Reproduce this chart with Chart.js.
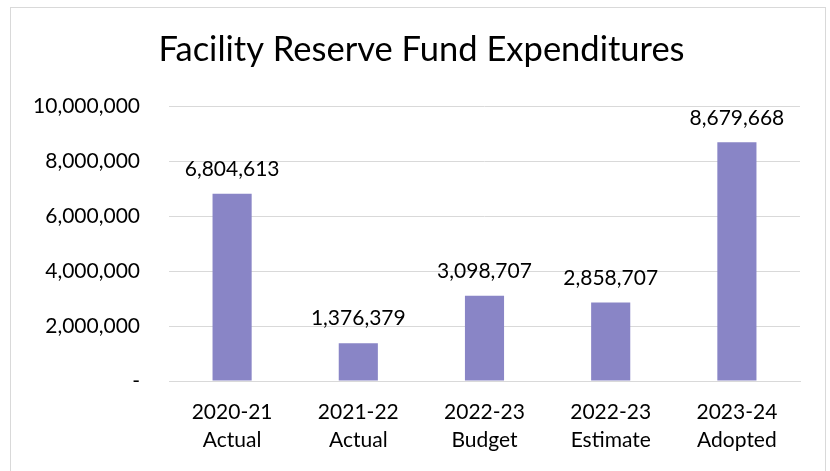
<!DOCTYPE html>
<html>
<head>
<meta charset="utf-8">
<script src="https://cdn.jsdelivr.net/npm/chart.js@4"></script>
<style>
  html, body { margin: 0; padding: 0; background: #fff; }
  #wrap { position: relative; width: 830px; height: 471px; }
  #frame { position: absolute; left: 10px; top: 7px; width: 816px; height: 470px; border: 1px solid #d9d9d9; box-sizing: border-box; }
  canvas { position: absolute; left: 0; top: 0; }
</style>
</head>
<body>
<div id="wrap">
  <div id="frame"></div>
  <canvas id="myChart" width="830" height="471"></canvas>
</div>
<script>
const titleText = 'Facility Reserve Fund Expenditures';
const categories = [
  ['2020-21', 'Actual'],
  ['2021-22', 'Actual'],
  ['2022-23', 'Budget'],
  ['2022-23', 'Estimate'],
  ['2023-24', 'Adopted']
];
const expenditures = [6804613, 1376379, 3098707, 2858707, 8679668];
const yTicks = [0, 2000000, 4000000, 6000000, 8000000, 10000000];

const fmt = v => v.toLocaleString('en-US');
const FONT = 'Lato, Calibri, sans-serif';

// draws the value above each bar
const valueLabels = {
  id: 'valueLabels',
  afterDatasetsDraw(chart) {
    const ctx = chart.ctx;
    const meta = chart.getDatasetMeta(0);
    ctx.save();
    ctx.font = '21px ' + FONT;
    ctx.fillStyle = '#000';
    ctx.textAlign = 'center';
    ctx.textBaseline = 'bottom';
    meta.data.forEach((bar, i) => {
      ctx.fillText(fmt(expenditures[i]), bar.x, bar.y - 14);
    });
    ctx.restore();
  }
};

// the title in the original sits a bit right of the canvas centre
const shiftTitle = {
  id: 'shiftTitle',
  afterLayout(chart) {
    if (chart.titleBlock) chart.titleBlock.left = 43;
  }
};

new Chart(document.getElementById('myChart').getContext('2d'), {
  type: 'bar',
  data: {
    labels: categories,
    datasets: [{
      data: expenditures,
      backgroundColor: '#8985c6',
      barPercentage: 0.31,
      categoryPercentage: 1
    }]
  },
  options: {
    responsive: false,
    animation: false,
    layout: { padding: { left: 0, right: 30, top: 0, bottom: 0 } },
    plugins: {
      legend: { display: false },
      tooltip: { enabled: false },
      title: {
        display: true,
        text: titleText,
        color: '#000',
        font: { family: FONT, size: 34.5, weight: 'normal', lineHeight: 1.2 },
        padding: { top: 29, bottom: 35.6 }
      }
    },
    scales: {
      x: {
        grid: { display: false, drawTicks: false },
        border: { color: '#d9d9d9', width: 1 },
        ticks: {
          color: '#000',
          font: { family: FONT, size: 21, lineHeight: 1.33 },
          padding: 17,
          maxRotation: 0
        },
        afterFit(scale) { scale.height = 90; }
      },
      y: {
        min: 0,
        max: 10000000,
        afterBuildTicks(scale) { scale.ticks = yTicks.map(v => ({ value: v })); },
        grid: { color: '#d9d9d9', drawTicks: false },
        border: { display: false },
        ticks: {
          color: '#000',
          font: { family: FONT, size: 21 },
          padding: 29,
          callback: v => v === 0 ? '-' : fmt(v)
        },
        afterFit(scale) { scale.width = 169; }
      }
    }
  },
  plugins: [valueLabels, shiftTitle]
});
</script>
</body>
</html>
